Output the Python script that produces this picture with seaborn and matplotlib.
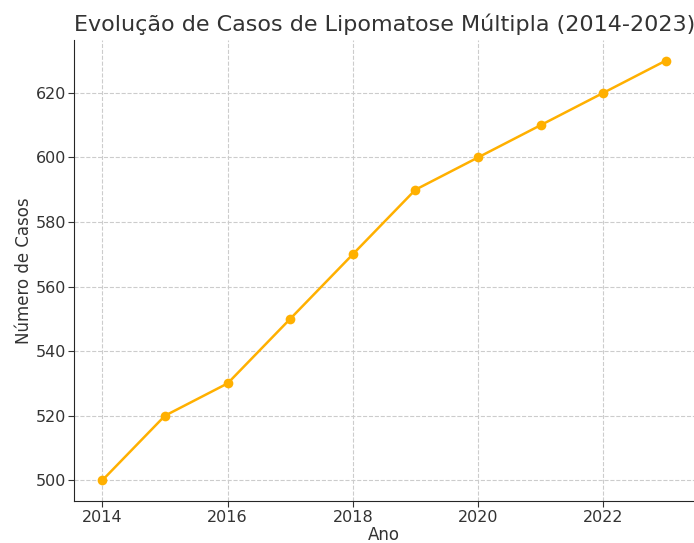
import matplotlib
matplotlib.use("Agg")
import matplotlib.pyplot as plt
import seaborn as sns
import pandas as pd

anos = [2014, 2015, 2016, 2017, 2018, 2019, 2020, 2021, 2022, 2023]
casos = [500, 520, 530, 550, 570, 590, 600, 610, 620, 630]

df = pd.DataFrame({"Ano": anos, "Casos": casos})

sns.set_style("ticks")
plt.rcParams["font.family"] = ["DejaVu Sans"]

fig, ax = plt.subplots(figsize=(6.94, 5.43), dpi=100)
sns.lineplot(data=df, x="Ano", y="Casos", marker="o", color="#FFB000",
             linewidth=1.8, markersize=7, markeredgewidth=0, ax=ax)

ax.set_title("Evolução de Casos de Lipomatose Múltipla (2014-2023)",
             fontsize=16, color="#333333")
ax.set_xlabel("Ano", fontsize=12, color="#333333", labelpad=1)
ax.set_ylabel("Número de Casos", fontsize=12, color="#333333", labelpad=2)
ax.tick_params(labelsize=11.5, colors="#333333", length=4, pad=2)
ax.set_xticks([2014, 2016, 2018, 2020, 2022])
ax.grid(True, linestyle="--", color="#cccccc", linewidth=0.8)
sns.despine(ax=ax)

fig.subplots_adjust(left=0.107, right=1.0, top=0.927, bottom=0.077)
fig.savefig("out.png", dpi=100)
plt.close(fig)
